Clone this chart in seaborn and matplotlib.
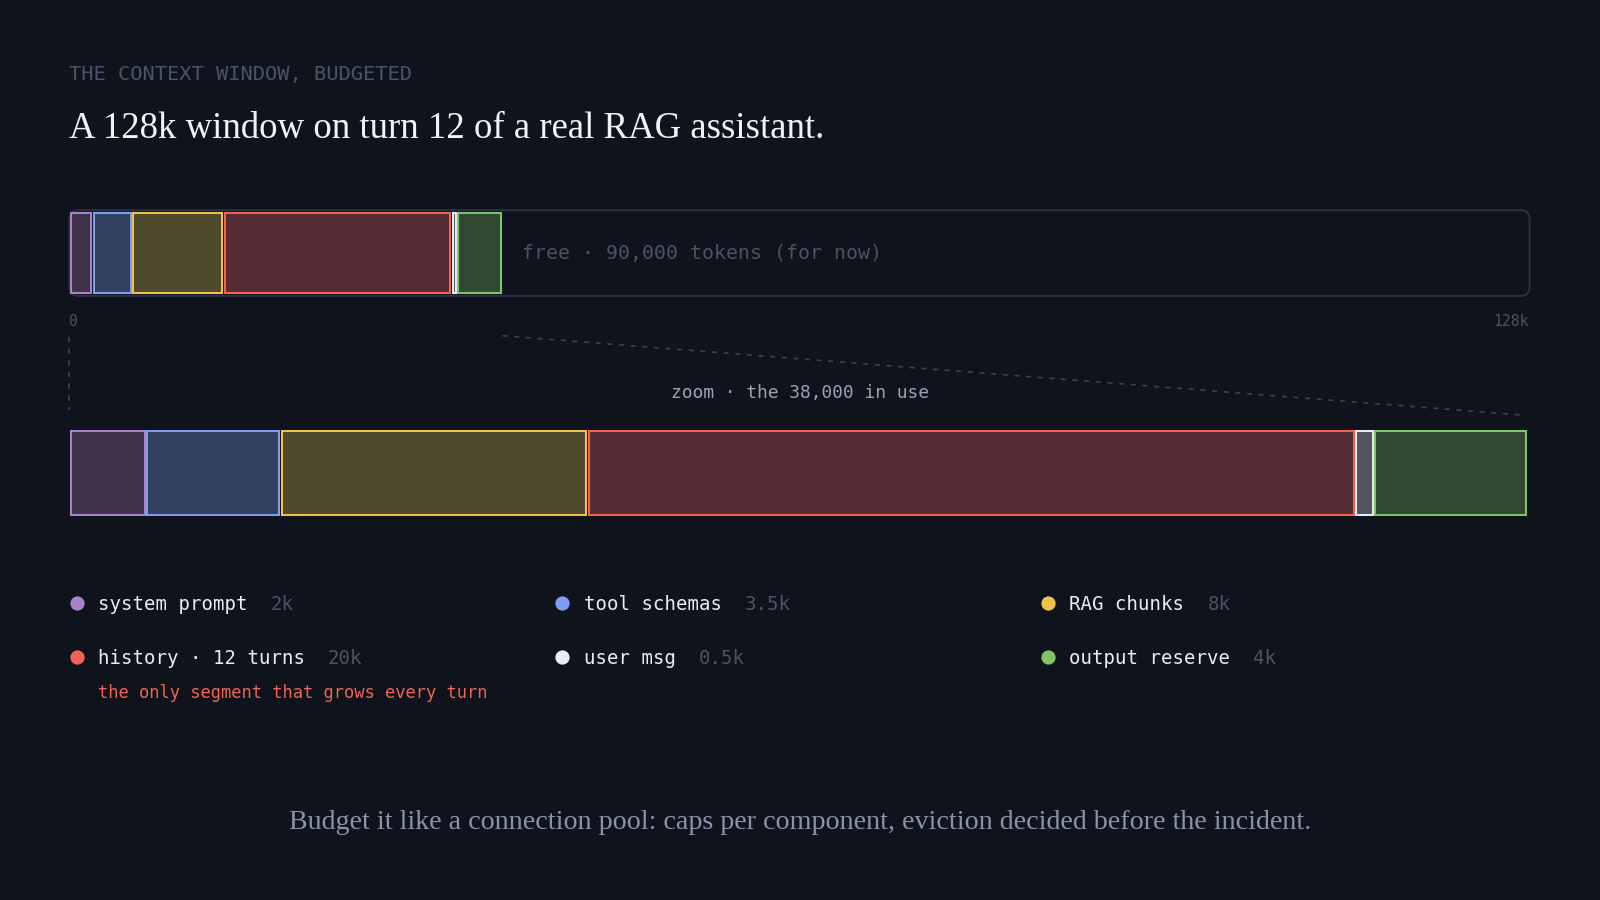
import matplotlib
matplotlib.use("Agg")
import matplotlib.pyplot as plt
import seaborn as sns
import numpy as np
from matplotlib.patches import FancyBboxPatch

# Data: token budget of one turn, in thousands of tokens
segments = ["system prompt", "tool schemas", "RAG chunks",
            "history · 12 turns", "user msg", "output reserve"]
tokens_k = [2, 3.5, 8, 20, 0.5, 4]
value_labels = ["2k", "3.5k", "8k", "20k", "0.5k", "4k"]
window_k = 128
axis_labels = ["0", "128k"]

edge_colors = ["#a684c7", "#7f9cf5", "#f0c14b", "#f26355", "#e8ecf4", "#7fc467"]
fill_colors = ["#3e3249", "#333f5e", "#504a2c", "#552c33", "#51555f", "#324832"]
dot_colors = ["#a684c7", "#7f9cf5", "#f0c14b", "#f26355", "#e8ecf4", "#7fc467"]

BG = "#0f131c"
MUTED = "#4a5368"
MONO = "DejaVu Sans Mono"
SERIF = "Liberation Serif"

# reference layout is 1568 x 882 px, output is 1600 x 900
W, H = 1568, 882
PT = 1600 / W * 0.72  # ref px -> points


def fs(px):
    return px * PT


def fig_rect(x0, y0, x1, y1):
    return [x0 / W, 1 - y1 / H, (x1 - x0) / W, (y1 - y0) / H]


sns.set_theme(style="dark", rc={"figure.facecolor": BG, "axes.facecolor": BG})
plt.rcParams["font.family"] = ["DejaVu Sans Mono", "DejaVu Sans"]

fig = plt.figure(figsize=(16, 9), dpi=100)
bg = fig.add_axes([0, 0, 1, 1])
bg.set_xlim(0, W)
bg.set_ylim(H, 0)
bg.axis("off")

# header
bg.text(68, 78, "THE CONTEXT WINDOW, BUDGETED", family=MONO, fontsize=fs(20),
        color=MUTED, va="baseline")
bg.text(68, 135, "A 128k window on turn 12 of a real RAG assistant.", family=SERIF,
        fontsize=fs(36), color="#f0f2f7", va="baseline")

# outline of the full window
bg.add_patch(FancyBboxPatch((68, 206), 1431, 84, boxstyle="round,pad=0,rounding_size=9",
                            facecolor="none", edgecolor="#283045", linewidth=1.5))

used_k = sum(tokens_k)
free_k = window_k - used_k
starts = np.concatenate([[0], np.cumsum(tokens_k)[:-1]])
EDGE_PX = 2.0


def draw_bar(ax, total, width_px):
    gap = (EDGE_PX + 0.6) * total / width_px
    inset = EDGE_PX / 2 / 80
    ax.barh([0] * len(tokens_k), [v - gap for v in tokens_k], left=starts + gap / 2,
            height=1.0 - 2 * inset, color=fill_colors, edgecolor=edge_colors,
            linewidth=EDGE_PX * PT, clip_on=False)
    ax.set_xlim(0, total)
    ax.set_ylim(-0.5, 0.5)
    ax.axis("off")
    ax.patch.set_alpha(0)


# full window bar
top = fig.add_axes(fig_rect(68, 208, 1498, 288))
draw_bar(top, window_k, 1430)
bg.text(512, 254, f"free · {free_k * 1000:,.0f} tokens (for now)", family=MONO,
        fontsize=fs(19.5), color=MUTED, va="baseline")
bg.text(68, 319, axis_labels[0], family=MONO, fontsize=fs(14.5), color=MUTED, va="baseline")
bg.text(1498, 319, axis_labels[1], family=MONO, fontsize=fs(14.5), color=MUTED,
        va="baseline", ha="right")

# zoom guides
used_px = 68 + used_k / window_k * 1430
bg.plot([68, 68], [330, 402], color="#3a4256", linewidth=1.2, linestyle=(0, (3, 4)))
bg.plot([used_px, 1495], [329, 407], color="#3a4256", linewidth=1.2, linestyle=(0, (3, 4)))
bg.text(784, 390, f"zoom · the {used_k * 1000:,.0f} in use", family=MONO, fontsize=fs(17.5),
        color="#9aa3b5", va="baseline", ha="center")

# zoomed bar of the part in use
zoom = fig.add_axes(fig_rect(68, 421, 1497, 506))
draw_bar(zoom, used_k, 1429)

# legend
col_x = [68, 544, 1020]
row_y = [591, 644]
for i, (name, val, c) in enumerate(zip(segments, value_labels, dot_colors)):
    x = col_x[i % 3]
    y = row_y[i // 3]
    bg.scatter([x + 7], [y], s=(14 * PT) ** 2, color=c, linewidths=0, zorder=3)
    t = bg.text(x + 28, y + 7, name, family=MONO, fontsize=fs(18.6), color="#e8ecf4",
                va="baseline")
    bg.annotate(val, xy=(1, 0), xycoords=t, xytext=(fs(22.5), 0), textcoords="offset points",
                family=MONO, fontsize=fs(18.6), color=MUTED, va="bottom")

bg.text(96, 684, "the only segment that grows every turn", family=MONO, fontsize=fs(16.8),
        color="#f26355", va="baseline")

# footer
bg.text(784, 812, "Budget it like a connection pool: caps per component, eviction decided "
        "before the incident.", family=SERIF, fontsize=fs(27.5), color="#8a93a8",
        va="baseline", ha="center")

fig.savefig("out.png", dpi=100, facecolor=BG)
